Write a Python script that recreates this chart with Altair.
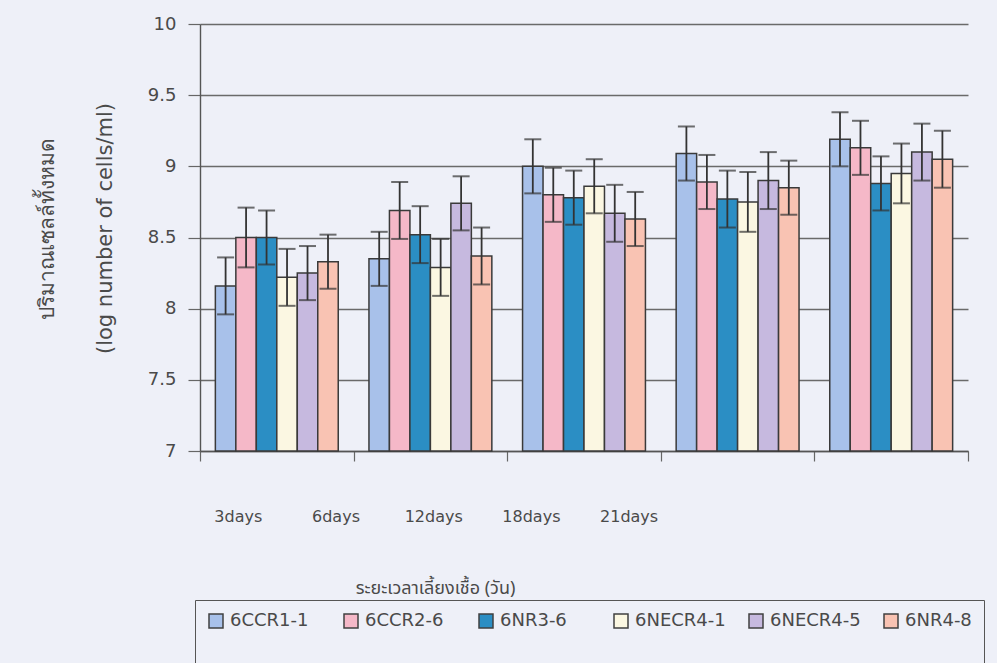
import altair as alt
import pandas as pd

# Culture periods (x categories) and isolates (series)
days = ["3days", "6days", "12days", "18days", "21days"]
strains = ["6CCR1-1", "6CCR2-6", "6NR3-6", "6NECR4-1", "6NECR4-5", "6NR4-8"]
colors = ["#a8c1ea", "#f5b8c8", "#2b8ec4", "#fbf7e2", "#c6b9df", "#f9c3b3"]

# Mean total cell count (log cells/ml), one list per isolate across the days
ccr1_1 = [8.16, 8.35, 9.00, 9.09, 9.19]
ccr2_6 = [8.50, 8.69, 8.80, 8.89, 9.13]
nr3_6 = [8.50, 8.52, 8.78, 8.77, 8.88]
necr4_1 = [8.22, 8.29, 8.86, 8.75, 8.95]
necr4_5 = [8.25, 8.74, 8.67, 8.90, 9.10]
nr4_8 = [8.33, 8.37, 8.63, 8.85, 9.05]

# Standard deviations
ccr1_1_sd = [0.20, 0.19, 0.19, 0.19, 0.19]
ccr2_6_sd = [0.21, 0.20, 0.19, 0.19, 0.19]
nr3_6_sd = [0.19, 0.20, 0.19, 0.20, 0.19]
necr4_1_sd = [0.20, 0.20, 0.19, 0.21, 0.21]
necr4_5_sd = [0.19, 0.19, 0.20, 0.20, 0.20]
nr4_8_sd = [0.19, 0.20, 0.19, 0.19, 0.20]

means = [ccr1_1, ccr2_6, nr3_6, necr4_1, necr4_5, nr4_8]
sds = [ccr1_1_sd, ccr2_6_sd, nr3_6_sd, necr4_1_sd, necr4_5_sd, nr4_8_sd]

rows = []
for s, m_list, e_list in zip(strains, means, sds):
    for d, m, e in zip(days, m_list, e_list):
        rows.append({"day": d, "strain": s, "mean": m, "lo": m - e, "hi": m + e})
df = pd.DataFrame(rows)

BG = "#eef0f8"
INK = "#4a4a4a"
LATIN = "DejaVu Sans"
THAI = "Noto Sans Thai, Noto Sans Thai Looped, Loma, Garuda, Noto Sans, sans-serif"

day_list = ",".join("'" + d + "'" for d in days)

# Category bands touch each other so the ticks fall on the group boundaries;
# the gap between groups comes from the outer padding of the offset scale.
x_scale = alt.Scale(paddingInner=0, paddingOuter=0)
offset_scale = alt.Scale(paddingInner=0, paddingOuter=0.75)

x_enc = alt.X(
    "day:N",
    sort=days,
    scale=x_scale,
    axis=alt.Axis(
        title="ระยะเวลาเลี้ยงเชื้อ (วัน)",
        titleFont=THAI,
        titleFontSize=18,
        titleFontWeight="normal",
        titleColor=INK,
        titleX=235,
        titleY=137,
        titleBaseline="middle",
        titleAlign="center",
        labelAngle=0,
        labelFont=LATIN,
        labelFontSize=16,
        labelColor=INK,
        labelPadding=47,
        labelOffset=alt.ExprRef(expr=f"-39 - 55.9 * indexof([{day_list}], datum.value)"),
        tickBand="extent",
        tickSize=10,
        tickColor="#666666",
        tickWidth=1.2,
        domainColor="#555555",
        domainWidth=1.4,
        grid=False,
    ),
)

y_scale = alt.Scale(domain=[7, 10], nice=False, zero=False)

bars = alt.Chart(df).mark_bar(stroke="#3a3a3a", strokeWidth=1.5, opacity=1).encode(
    x=x_enc,
    xOffset=alt.XOffset("strain:N", sort=strains, scale=offset_scale),
    y=alt.Y(
        "mean:Q",
        scale=y_scale,
        axis=alt.Axis(
            title=["ปริมาณเซลล์ทั้งหมด", "(log number of cells/ml)"],
            titleFont=LATIN,
            titleFontSize=21,
            titleFontWeight="normal",
            titleColor=INK,
            titleAngle=270,
            titleX=-153,
            titleY=204,
            titleAlign="center",
            titleBaseline="middle",
            titleLineHeight=58,
            values=[7, 7.5, 8, 8.5, 9, 9.5, 10],
            format="~g",
            labelFont=LATIN,
            labelFontSize=18,
            labelColor=INK,
            labelPadding=12,
            tickSize=12,
            tickColor="#666666",
            tickWidth=1.2,
            domainColor="#555555",
            domainWidth=1.4,
            grid=True,
            gridColor="#6a6a6a",
            gridWidth=1.3,
        ),
    ),
    y2=alt.datum(7),
    color=alt.Color(
        "strain:N",
        sort=strains,
        scale=alt.Scale(domain=strains, range=colors),
        legend=alt.Legend(
            title=" ",
            titleOrient="bottom",
            titleFontSize=30,
            titlePadding=0,
            orient="none",
            legendX=-5,
            legendY=576,
            direction="horizontal",
            columns=6,
            gridAlign="all",
            columnPadding=20,
            symbolType="square",
            symbolSize=196,
            symbolStrokeColor="#404040",
            symbolStrokeWidth=1.5,
            symbolOpacity=1,
            labelFont=LATIN,
            labelFontSize=18,
            labelColor=INK,
            labelOffset=5,
            padding=12,
            strokeColor="#555555",
            fillColor=BG,
        ),
    ),
)

err_rule = alt.Chart(df).mark_rule(color="#333333", strokeWidth=1.8).encode(
    x=alt.X("day:N", sort=days, scale=x_scale),
    xOffset=alt.XOffset("strain:N", sort=strains, scale=offset_scale),
    y=alt.Y("lo:Q", scale=y_scale),
    y2="hi:Q",
)

err_caps = alt.Chart(df).transform_fold(["lo", "hi"], as_=["end", "val"]).mark_tick(
    color="#333333", thickness=2, size=17, orient="horizontal"
).encode(
    x=alt.X("day:N", sort=days, scale=x_scale),
    xOffset=alt.XOffset("strain:N", sort=strains, scale=offset_scale),
    y=alt.Y("val:Q", scale=y_scale),
)

chart = (
    alt.layer(bars, err_rule, err_caps)
    .properties(
        width=768,
        height=427,
        background=BG,
        padding={"left": 200, "top": 24, "right": 29, "bottom": 212},
        autosize=alt.AutoSizeParams(type="none"),
    )
    .configure_view(stroke=None, fill=BG)
)

chart.save("out.html", embed_options={"renderer": "svg", "actions": False})
